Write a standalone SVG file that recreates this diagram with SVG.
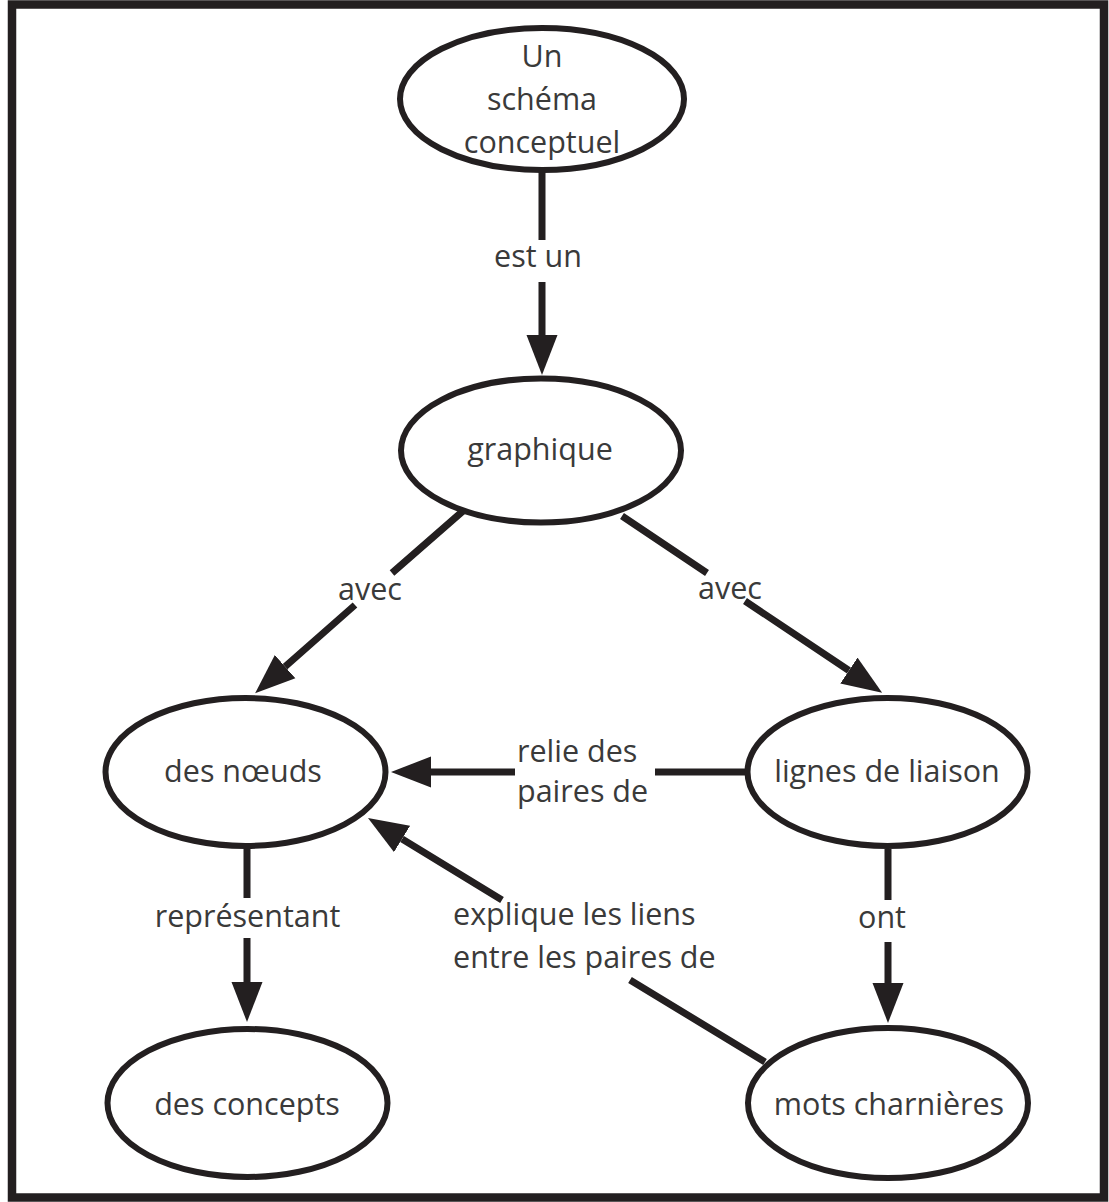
<svg xmlns="http://www.w3.org/2000/svg" width="1109" height="1202" viewBox="0 0 1109 1202">
<defs>
<style>
.frame{fill:#ffffff;stroke:#231f20;stroke-width:8.5}
.node{fill:#ffffff;stroke:#231f20;stroke-width:6}
.conn{fill:none;stroke:#231f20;stroke-width:7}
text{font-family:"Open Sans","Liberation Sans",sans-serif;font-size:30.5px;fill:#3a3a3a}
.c{text-anchor:middle}
</style>
<marker id="arr" markerUnits="userSpaceOnUse" viewBox="0 -16 40 32" markerWidth="40" markerHeight="32" refX="0" refY="0" orient="auto">
<path d="M0,-15.5 L40,0 L0,15.5 Z" fill="#231f20"/>
</marker>
</defs>
<rect class="frame" x="12" y="4.5" width="1092" height="1193"/>
<g id="connectors">
<path class="conn" d="M542,172 L542,240 M542,282 L542,335" marker-end="url(#arr)"/>
<path class="conn" d="M463,511 L392,573 M355,605 L285.1,666.7" marker-end="url(#arr)"/>
<path class="conn" d="M622,516 L707,573 M745,601 L848.9,670.5" marker-end="url(#arr)"/>
<path class="conn" d="M746,772 L655,772 M515,772 L431,772" marker-end="url(#arr)"/>
<path class="conn" d="M765,1062 L630,980 M502,900 L402.1,838.9" marker-end="url(#arr)"/>
<path class="conn" d="M247,849 L247,898 M247,938 L247,982" marker-end="url(#arr)"/>
<path class="conn" d="M888,849 L888,900 M888,942 L888,983" marker-end="url(#arr)"/>
<text class="c" x="538" y="267">est un</text>
<text class="c" x="370" y="600">avec</text>
<text class="c" x="730" y="599">avec</text>
<text x="517" y="762">relie des</text>
<text x="517" y="802">paires de</text>
<text x="453" y="925">explique les liens</text>
<text x="453" y="968">entre les paires de</text>
<text class="c" x="247.5" y="927">représentant</text>
<text class="c" x="882" y="928">ont</text>
</g>
<g id="n-schema">
<ellipse class="node" cx="542" cy="99" rx="142" ry="71"/>
<text class="c" x="542" y="67">Un</text>
<text class="c" x="542" y="110">schéma</text>
<text class="c" x="542" y="153">conceptuel</text>
</g>
<g id="n-graphique">
<ellipse class="node" cx="541" cy="450.5" rx="140" ry="72"/>
<text class="c" x="540" y="460">graphique</text>
</g>
<g id="n-noeuds">
<ellipse class="node" cx="245.5" cy="772" rx="140" ry="74"/>
<text class="c" x="243" y="782">des nœuds</text>
</g>
<g id="n-lignes">
<ellipse class="node" cx="887.5" cy="772" rx="140" ry="74"/>
<text class="c" x="887" y="782">lignes de liaison</text>
</g>
<g id="n-concepts">
<ellipse class="node" cx="247.5" cy="1103" rx="140" ry="74"/>
<text class="c" x="247" y="1115">des concepts</text>
</g>
<g id="n-mots">
<ellipse class="node" cx="888" cy="1103" rx="140" ry="75"/>
<text class="c" x="889" y="1115">mots charnières</text>
</g>
</svg>
